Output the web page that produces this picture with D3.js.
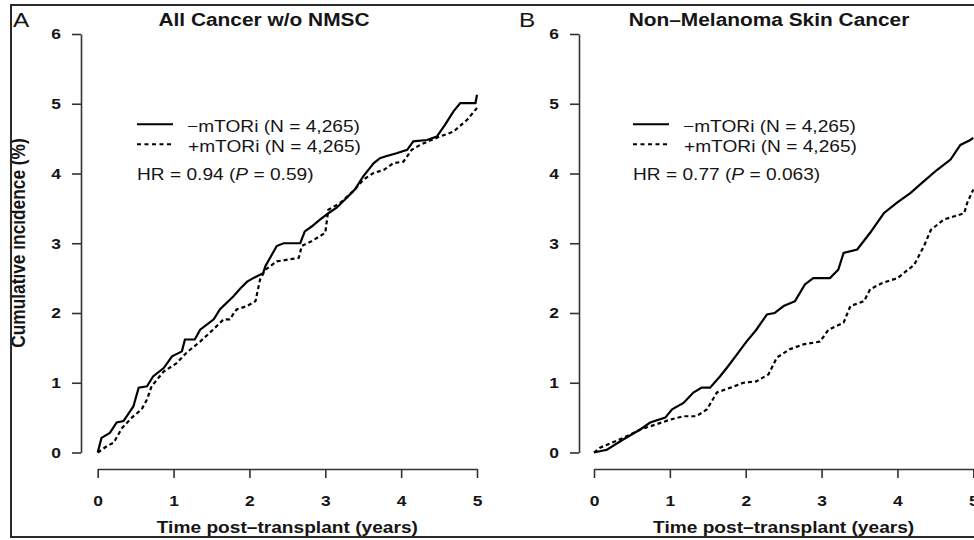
<!DOCTYPE html>
<html>
<head>
<meta charset="utf-8">
<script src="https://cdn.jsdelivr.net/npm/d3@7"></script>
<style>
  body { margin: 0; background: #fff; }
  svg { display: block; }
  text { font-family: "Liberation Sans", Arial, Helvetica, sans-serif; fill: #151515; }
</style>
</head>
<body>
<svg id="chart" width="974" height="540"></svg>
<script>
// ---- data: [years, cumulative incidence %] ----
var xTicks = [0, 1, 2, 3, 4, 5];
var yTicks = [0, 1, 2, 3, 4, 5, 6];

var cancerNoMtori = [[0,0],[0.05,0.21],[0.16,0.28],[0.25,0.43],[0.34,0.45],[0.47,0.66],[0.54,0.93],[0.65,0.95],
  [0.73,1.09],[0.87,1.21],[0.98,1.38],[1.11,1.45],[1.15,1.62],[1.28,1.62],[1.35,1.76],[1.53,1.91],[1.61,2.05],[1.79,2.24],
  [1.88,2.35],[1.97,2.45],[2.05,2.50],[2.18,2.57],[2.21,2.67],[2.36,2.96],[2.45,3.0],[2.67,3.0],[2.73,3.17],[2.82,3.24],
  [2.93,3.34],[3.04,3.43],[3.15,3.51],[3.28,3.65],[3.39,3.77],[3.50,3.96],[3.64,4.15],[3.72,4.22],[3.81,4.25],
  [3.94,4.29],[4.08,4.34],[4.16,4.46],[4.34,4.48],[4.47,4.53],[4.58,4.70],[4.69,4.89],[4.78,5.01],[4.98,5.01],[5.0,5.13]];
var cancerMtori = [[0,0],[0.12,0.09],[0.21,0.14],[0.32,0.35],[0.45,0.50],[0.58,0.62],[0.65,0.76],[0.71,0.95],
  [0.87,1.16],[1.04,1.28],[1.17,1.43],[1.35,1.59],[1.52,1.76],[1.66,1.91],[1.74,1.91],[1.83,2.05],[1.97,2.10],[2.08,2.17],
  [2.14,2.48],[2.21,2.62],[2.36,2.74],[2.65,2.79],[2.69,2.96],[2.82,3.03],[3.0,3.15],[3.04,3.48],[3.20,3.58],
  [3.39,3.77],[3.50,3.91],[3.64,4.01],[3.77,4.05],[3.90,4.15],[4.03,4.17],[4.14,4.34],[4.25,4.41],[4.40,4.48],
  [4.51,4.53],[4.69,4.60],[4.87,4.77],[5.0,4.94]];

var nmscNoMtori = [[0,0],[0.17,0.04],[0.39,0.19],[0.61,0.33],[0.74,0.43],[0.94,0.50],[1.03,0.62],[1.18,0.71],
  [1.31,0.86],[1.42,0.93],[1.53,0.93],[1.66,1.09],[1.77,1.24],[1.88,1.40],[2.01,1.59],[2.14,1.76],[2.28,1.98],
  [2.38,2.00],[2.50,2.10],[2.65,2.17],[2.78,2.41],[2.89,2.50],[3.11,2.50],[3.22,2.62],[3.29,2.86],[3.47,2.91],
  [3.64,3.15],[3.82,3.43],[3.99,3.58],[4.17,3.72],[4.35,3.89],[4.52,4.05],[4.70,4.20],[4.83,4.41],[4.96,4.48],[5.0,4.51]];
var nmscMtori = [[0,0],[0.08,0.07],[0.39,0.21],[0.61,0.33],[0.81,0.40],[1.0,0.47],[1.18,0.52],[1.35,0.52],
  [1.49,0.62],[1.62,0.86],[1.80,0.93],[1.97,1.00],[2.14,1.02],[2.30,1.12],[2.41,1.36],[2.58,1.48],[2.76,1.55],
  [2.98,1.59],[3.09,1.76],[3.29,1.86],[3.38,2.10],[3.56,2.17],[3.64,2.34],[3.80,2.43],[4.0,2.50],[4.22,2.69],
  [4.35,2.96],[4.44,3.19],[4.61,3.34],[4.88,3.43],[4.92,3.58],[5.0,3.77]];

var legendLabels = ["\u2212mTORi (N = 4,265)", "+mTORi (N = 4,265)"];

// the source picture is stretched sideways, so text gets a small x scale
var SX = 1.16;
var svg = d3.select('#chart');

function put(sel, x, y, extra) {
  return sel.attr('transform', 'translate(' + x + ',' + y + ') scale(' + SX + ',1)' + (extra || ''));
}

function drawPanel(p) {
  var x = d3.scaleLinear().domain([0, 5]).range([p.x0, p.x0 + 379.3]);
  var y = d3.scaleLinear().domain([0, 6]).range([452.5, 34]);
  var g = svg.append('g');

  // y axis (R style, detached)
  var ya = g.append('g').attr('transform', 'translate(' + p.yAxisX + ',0)')
    .call(d3.axisLeft(y).tickValues(yTicks).tickFormat(d3.format('d')).tickSize(9).tickSizeOuter(0));
  ya.selectAll('text').attr('x', null)
    .each(function() { put(d3.select(this), -20, 0); });

  // x axis
  var xa = g.append('g').attr('transform', 'translate(0,469)')
    .call(d3.axisBottom(x).tickValues(xTicks).tickFormat(d3.format('d')).tickSize(9).tickSizeOuter(0).tickPadding(17));
  xa.selectAll('text').attr('transform', 'scale(' + SX + ',1)');

  [ya, xa].forEach(function(a) {
    a.select('.domain').attr('stroke', '#333').attr('stroke-width', 1.6);
    a.selectAll('.tick line').attr('stroke', '#333').attr('stroke-width', 1.6);
    a.selectAll('text').attr('font-size', 15).attr('font-weight', 'bold').attr('fill', '#151515')
      .attr('font-family', '"Liberation Sans", Arial, sans-serif');
  });

  // curves
  var line = d3.line()
    .x(function(d) { return x(d[0]); })
    .y(function(d) { return y(d[1]); })
    .curve(d3.curveLinear);

  g.append('path').attr('d', line(p.solid)).attr('fill', 'none')
    .attr('stroke', '#000').attr('stroke-width', 2.2).attr('stroke-linejoin', 'miter');
  g.append('path').attr('d', line(p.dashed)).attr('fill', 'none')
    .attr('stroke', '#000').attr('stroke-width', 2.2).attr('stroke-dasharray', '4,3');

  // legend
  var lx = p.legX;
  g.append('line').attr('x1', lx).attr('x2', lx + 36).attr('y1', 124.3).attr('y2', 124.3)
    .attr('stroke', '#000').attr('stroke-width', 2);
  g.append('line').attr('x1', lx).attr('x2', lx + 36).attr('y1', 144.3).attr('y2', 144.3)
    .attr('stroke', '#000').attr('stroke-width', 2).attr('stroke-dasharray', '4,3.5');
  put(g.append('text').attr('font-size', 16.5).text(legendLabels[0]), lx + 50, 131.5);
  put(g.append('text').attr('font-size', 16.5).text(legendLabels[1]), lx + 51, 151.5);

  var hr = put(g.append('text').attr('font-size', 16.5), lx, 180);
  hr.append('tspan').text('HR = ' + p.hr + ' (');
  hr.append('tspan').attr('font-style', 'italic').text('P');
  hr.append('tspan').text(' = ' + p.pval + ')');

  // titles
  put(g.append('text').attr('font-size', 18).attr('font-weight', 'bold')
    .attr('text-anchor', 'middle').text(p.title), p.titleX, 26);
  put(g.append('text').attr('font-size', 21).text(p.letter), p.letterX, 27);
  put(g.append('text').attr('font-size', 16.5).attr('font-weight', 'bold')
    .attr('text-anchor', 'middle').text('Time post\u2013transplant (years)'), (x.range()[0] + x.range()[1]) / 2, 533);

  if (p.yTitle) {
    put(g.append('text').attr('font-size', 17.3).attr('font-weight', 'bold')
      .attr('text-anchor', 'middle').text(p.yTitle), 25, 243, ' rotate(-90)');
  }
}

drawPanel({
  letter: 'A', letterX: 13, title: 'All Cancer w/o NMSC', titleX: 264,
  x0: 97.7, yAxisX: 81, legX: 137,
  solid: cancerNoMtori, dashed: cancerMtori,
  hr: '0.94', pval: '0.59', yTitle: 'Cumulative incidence (%)'
});

drawPanel({
  letter: 'B', letterX: 519, title: 'Non\u2013Melanoma Skin Cancer', titleX: 769,
  x0: 594, yAxisX: 579, legX: 633,
  solid: nmscNoMtori, dashed: nmscMtori,
  hr: '0.77', pval: '0.063'
});

// figure frame
var frame = svg.append('g').attr('stroke', '#2a2a2a').attr('stroke-width', 2).attr('fill', 'none');
frame.append('path').attr('d', 'M974,5 H11 V537 H974');
</script>
</body>
</html>
